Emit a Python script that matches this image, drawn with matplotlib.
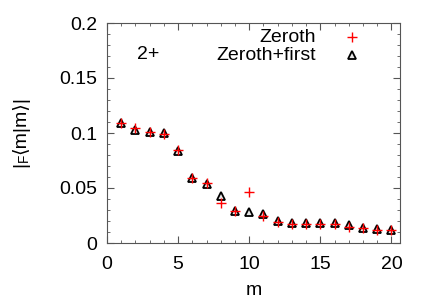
import matplotlib
matplotlib.use("Agg")
import matplotlib.pyplot as plt
from matplotlib.ticker import MultipleLocator
from matplotlib.transforms import IdentityTransform

plt.rcParams['font.family'] = ['Liberation Sans', 'DejaVu Sans']

m = list(range(1, 21))
zeroth = [0.109, 0.105, 0.101, 0.099, 0.085, 0.059, 0.055, 0.036, 0.029, 0.046,
          0.025, 0.019, 0.017, 0.017, 0.017, 0.017, 0.015, 0.014, 0.012, 0.012]
zeroth_first = [0.109, 0.103, 0.101, 0.100, 0.084, 0.059, 0.054, 0.043, 0.029, 0.028,
                0.026, 0.020, 0.018, 0.018, 0.018, 0.018, 0.016, 0.014, 0.013, 0.012]
yticks = [0, 0.05, 0.1, 0.15, 0.2]
yticklabels = ['0', '0.05', '0.1', '0.15', '0.2']
series_labels = ['Zeroth', 'Zeroth+first']

FS = 14
W, H = 436, 305
fig = plt.figure(figsize=(W / 100, H / 100), dpi=100)
ax = fig.add_axes([107 / W, 62 / H, 293 / W, 220 / H])

TRI = dict(marker='^', ms=6, mfc='#e8e8e8', mec='black', mew=1.3, linestyle='none')
PLUS = dict(marker='+', ms=7, color='red', mew=1.0, linestyle='none')

ax.plot(m, zeroth_first, zorder=2, **TRI)
ax.plot(m, zeroth, zorder=3, **PLUS)

ax.set_xlim(0, 20.6)
ax.set_ylim(0, 0.2)
ax.xaxis.set_major_locator(MultipleLocator(5))
ax.xaxis.set_minor_locator(MultipleLocator(1))
ax.yaxis.set_minor_locator(MultipleLocator(0.01))
ax.set_yticks(yticks)
ax.set_yticklabels(yticklabels)
ax.tick_params(which='both', direction='in', top=True, right=True, labelsize=FS,
               color='#555555')
ax.tick_params(which='major', length=5)
ax.tick_params(which='minor', length=2.5)
ax.tick_params(axis='x', pad=9.5)
ax.tick_params(axis='y', pad=7)
for s in ax.spines.values():
    s.set_color('#555555')

ax.set_xlabel('m', fontsize=FS, labelpad=6)

# Y label: |_F<m|m>|
fig.canvas.draw()
r = fig.canvas.get_renderer()
bx, by = 25, 138
t1 = fig.text(bx, by, '|', fontsize=FS, rotation=90, rotation_mode='anchor',
              ha='left', va='baseline', transform=IdentityTransform())
h1 = t1.get_window_extent(r).height
t2 = fig.text(bx + 3, by + h1, 'F', fontsize=FS * 0.7, rotation=90,
              rotation_mode='anchor', ha='left', va='baseline',
              transform=IdentityTransform())
h2 = t2.get_window_extent(r).height
fig.text(bx, by + h1 + h2, '⟨m|m⟩|', fontsize=FS, rotation=90,
         rotation_mode='anchor', ha='left', va='baseline',
         transform=IdentityTransform())

ax.text(2.9, 0.171, '2+', fontsize=FS, ha='center', va='center')

# key
tx = (316 - 107) / 293
kx = (352 - 107) / 293
ky1 = (243 - 37) / 220
ky2 = (243 - 55) / 220
ax.text(tx, ky1, series_labels[0], transform=ax.transAxes, fontsize=FS,
        ha='right', va='center')
ax.text(tx, ky2, series_labels[1], transform=ax.transAxes, fontsize=FS,
        ha='right', va='center')
ax.plot([kx], [ky1], transform=ax.transAxes, clip_on=False, **PLUS)
ax.plot([kx], [ky2], transform=ax.transAxes, clip_on=False, **TRI)

fig.savefig('out.png', dpi=100)
